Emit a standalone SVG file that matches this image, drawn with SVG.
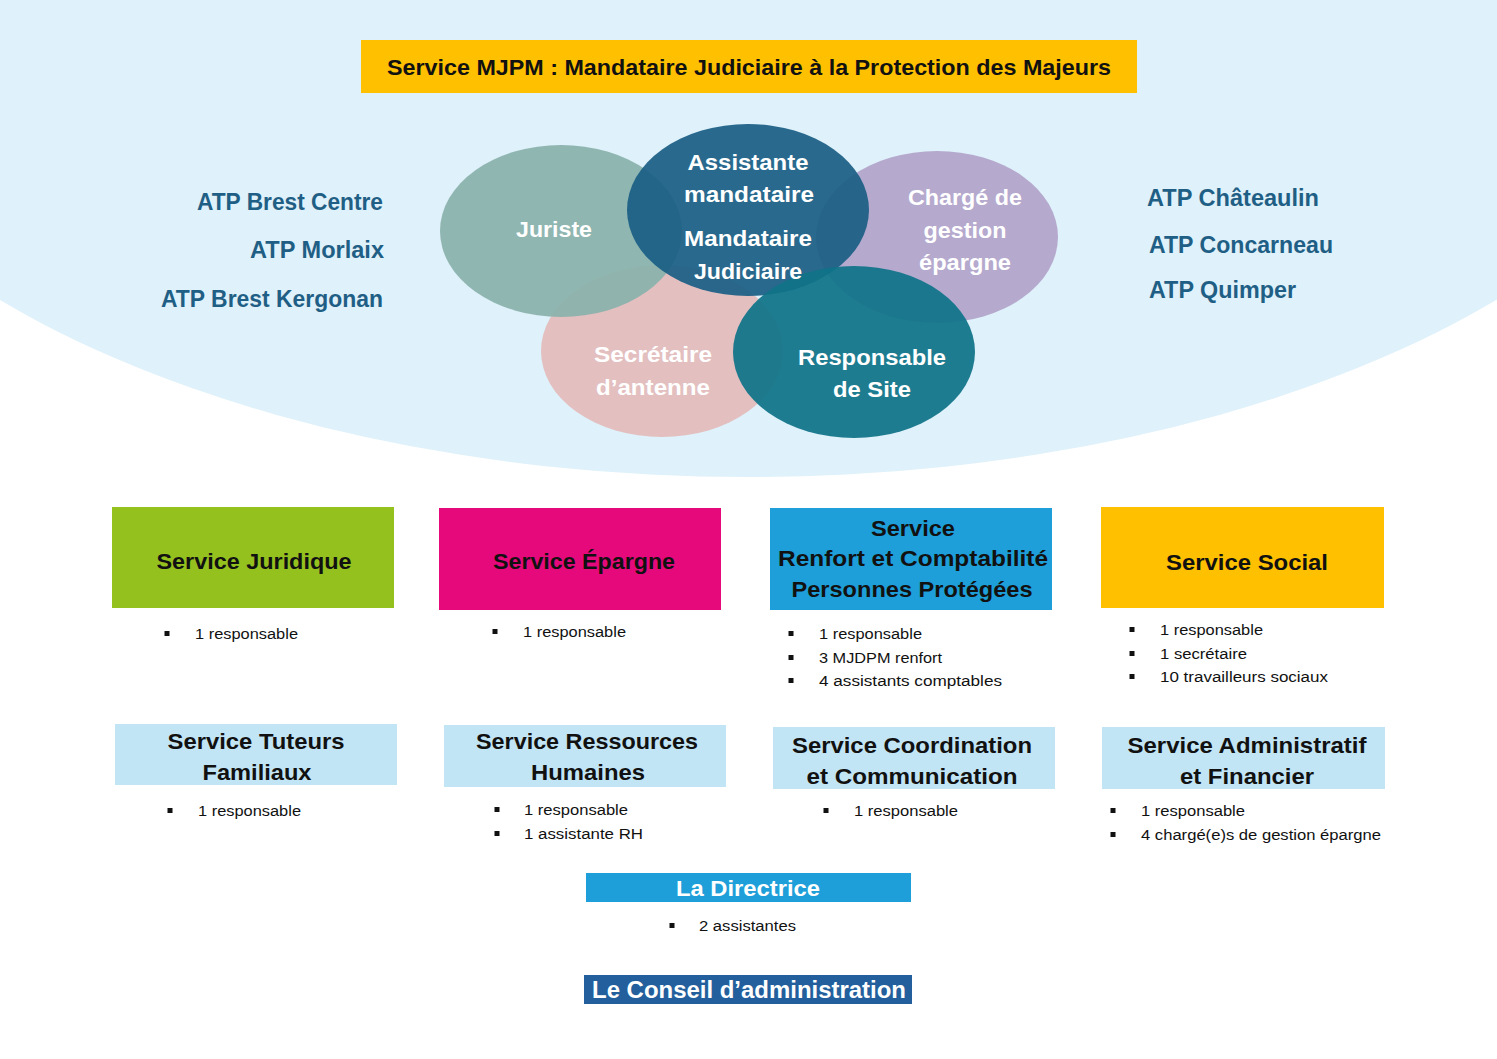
<svg xmlns="http://www.w3.org/2000/svg" width="1497" height="1059" viewBox="0 0 1497 1059">
<style>
  text { font-family: "Liberation Sans", Arial, sans-serif; }
  .t { font-weight: bold; font-size: 22px; text-anchor: middle; fill: #111; }
  .tw { font-weight: bold; font-size: 22px; text-anchor: middle; fill: #ffffff; }
  .atp { font-weight: bold; font-size: 23px; fill: #1F5F85; }
  .b { font-size: 15.5px; fill: #111; }
  .blt { fill: #111; }
  .ov { fill-opacity: 0.93; }
</style>
<rect x="0" y="0" width="1497" height="1059" fill="#ffffff"/>
<ellipse cx="748" cy="-49" rx="1000" ry="526" fill="#DFF1FA"/>

<g id="title">
  <rect x="361" y="40" width="776" height="53" fill="#FFC000"/>
  <text class="t" x="749" y="75" textLength="724" lengthAdjust="spacingAndGlyphs">Service MJPM : Mandataire Judiciaire à la Protection des Majeurs</text>
</g>

<g id="atp-left">
  <text class="atp" x="383" y="210" text-anchor="end" textLength="186" lengthAdjust="spacingAndGlyphs">ATP Brest Centre</text>
  <text class="atp" x="384" y="258" text-anchor="end" textLength="134" lengthAdjust="spacingAndGlyphs">ATP Morlaix</text>
  <text class="atp" x="383" y="307" text-anchor="end" textLength="222" lengthAdjust="spacingAndGlyphs">ATP Brest Kergonan</text>
</g>
<g id="atp-right">
  <text class="atp" x="1147" y="206" textLength="172" lengthAdjust="spacingAndGlyphs">ATP Châteaulin</text>
  <text class="atp" x="1149" y="253" textLength="184" lengthAdjust="spacingAndGlyphs">ATP Concarneau</text>
  <text class="atp" x="1149" y="298" textLength="147" lengthAdjust="spacingAndGlyphs">ATP Quimper</text>
</g>

<g id="ellipse-secretaire">
  <ellipse class="ov" cx="662" cy="351" rx="121" ry="86" fill="#E3BBBB"/>
</g>
<g id="ellipse-juriste">
  <ellipse class="ov" cx="561" cy="231" rx="121" ry="86" fill="#8AB2AB"/>
</g>
<g id="ellipse-charge">
  <ellipse class="ov" cx="937" cy="237" rx="121" ry="86" fill="#B2A4CA"/>
</g>
<g id="ellipse-mandataire">
  <ellipse class="ov" cx="748" cy="210" rx="121" ry="86" fill="#1B5F84"/>
</g>
<g id="ellipse-responsable">
  <ellipse class="ov" cx="854" cy="352" rx="121" ry="86" fill="#0F7388"/>
</g>
<g id="ellipse-labels">
  <text class="tw" x="554" y="237" textLength="76" lengthAdjust="spacingAndGlyphs">Juriste</text>
  <text class="tw" x="748" y="170" textLength="121" lengthAdjust="spacingAndGlyphs">Assistante</text>
  <text class="tw" x="749" y="202" textLength="130" lengthAdjust="spacingAndGlyphs">mandataire</text>
  <text class="tw" x="748" y="246" textLength="128" lengthAdjust="spacingAndGlyphs">Mandataire</text>
  <text class="tw" x="748" y="279" textLength="108" lengthAdjust="spacingAndGlyphs">Judiciaire</text>
  <text class="tw" x="965" y="205" textLength="114" lengthAdjust="spacingAndGlyphs">Chargé de</text>
  <text class="tw" x="965" y="238" textLength="83" lengthAdjust="spacingAndGlyphs">gestion</text>
  <text class="tw" x="965" y="270" textLength="92" lengthAdjust="spacingAndGlyphs">épargne</text>
  <text class="tw" x="653" y="362" textLength="118" lengthAdjust="spacingAndGlyphs">Secrétaire</text>
  <text class="tw" x="653" y="395" textLength="114" lengthAdjust="spacingAndGlyphs">d’antenne</text>
  <text class="tw" x="872" y="365" textLength="148" lengthAdjust="spacingAndGlyphs">Responsable</text>
  <text class="tw" x="872" y="397" textLength="78" lengthAdjust="spacingAndGlyphs">de Site</text>
</g>

<g id="service-juridique">
  <rect x="112" y="507" width="282" height="101" fill="#95C11F"/>
  <text class="t" x="254" y="569" textLength="195" lengthAdjust="spacingAndGlyphs">Service Juridique</text>
  <rect class="blt" x="164.5" y="631" width="5" height="5"/>
  <text class="b" x="195" y="639" textLength="103" lengthAdjust="spacingAndGlyphs">1 responsable</text>
</g>

<g id="service-epargne">
  <rect x="439" y="508" width="282" height="102" fill="#E6097B"/>
  <text class="t" x="584" y="569" textLength="182" lengthAdjust="spacingAndGlyphs">Service Épargne</text>
  <rect class="blt" x="492.5" y="629" width="5" height="5"/>
  <text class="b" x="523" y="637" textLength="103" lengthAdjust="spacingAndGlyphs">1 responsable</text>
</g>

<g id="service-renfort">
  <rect x="770" y="508" width="282" height="102" fill="#1E9FD9"/>
  <text class="t" x="913" y="536" textLength="84" lengthAdjust="spacingAndGlyphs">Service</text>
  <text class="t" x="913" y="566" textLength="270" lengthAdjust="spacingAndGlyphs">Renfort et Comptabilité</text>
  <text class="t" x="912" y="597" textLength="241" lengthAdjust="spacingAndGlyphs">Personnes Protégées</text>
  <rect class="blt" x="788.5" y="631" width="5" height="5"/>
  <text class="b" x="819" y="639" textLength="103" lengthAdjust="spacingAndGlyphs">1 responsable</text>
  <rect class="blt" x="788.5" y="655" width="5" height="5"/>
  <text class="b" x="819" y="663" textLength="123" lengthAdjust="spacingAndGlyphs">3 MJDPM renfort</text>
  <rect class="blt" x="788.5" y="678" width="5" height="5"/>
  <text class="b" x="819" y="686" textLength="183" lengthAdjust="spacingAndGlyphs">4 assistants  comptables</text>
</g>

<g id="service-social">
  <rect x="1101" y="507" width="283" height="101" fill="#FFC000"/>
  <text class="t" x="1247" y="570" textLength="162" lengthAdjust="spacingAndGlyphs">Service Social</text>
  <rect class="blt" x="1129.5" y="627" width="5" height="5"/>
  <text class="b" x="1160" y="635" textLength="103" lengthAdjust="spacingAndGlyphs">1 responsable</text>
  <rect class="blt" x="1129.5" y="651" width="5" height="5"/>
  <text class="b" x="1160" y="659" textLength="87" lengthAdjust="spacingAndGlyphs">1 secrétaire</text>
  <rect class="blt" x="1129.5" y="674" width="5" height="5"/>
  <text class="b" x="1160" y="682" textLength="168" lengthAdjust="spacingAndGlyphs">10 travailleurs sociaux</text>
</g>

<g id="service-tuteurs">
  <rect x="115" y="724" width="282" height="61" fill="#C2E5F5"/>
  <text class="t" x="256" y="749" textLength="177" lengthAdjust="spacingAndGlyphs">Service Tuteurs</text>
  <text class="t" x="257" y="780" textLength="109" lengthAdjust="spacingAndGlyphs">Familiaux</text>
  <rect class="blt" x="167.5" y="808" width="5" height="5"/>
  <text class="b" x="198" y="816" textLength="103" lengthAdjust="spacingAndGlyphs">1 responsable</text>
</g>

<g id="service-rh">
  <rect x="444" y="725" width="282" height="62" fill="#C2E5F5"/>
  <text class="t" x="587" y="749" textLength="222" lengthAdjust="spacingAndGlyphs">Service Ressources</text>
  <text class="t" x="588" y="780" textLength="114" lengthAdjust="spacingAndGlyphs">Humaines</text>
  <rect class="blt" x="494.5" y="807" width="5" height="5"/>
  <text class="b" x="524" y="815" textLength="104" lengthAdjust="spacingAndGlyphs">1 responsable</text>
  <rect class="blt" x="494.5" y="831" width="5" height="5"/>
  <text class="b" x="524" y="839" textLength="119" lengthAdjust="spacingAndGlyphs">1 assistante  RH</text>
</g>

<g id="service-coordination">
  <rect x="773" y="727" width="282" height="62" fill="#C2E5F5"/>
  <text class="t" x="912" y="753" textLength="240" lengthAdjust="spacingAndGlyphs">Service Coordination</text>
  <text class="t" x="912" y="784" textLength="211" lengthAdjust="spacingAndGlyphs">et Communication</text>
  <rect class="blt" x="823.5" y="808" width="5" height="5"/>
  <text class="b" x="854" y="816" textLength="104" lengthAdjust="spacingAndGlyphs">1 responsable</text>
</g>

<g id="service-administratif">
  <rect x="1102" y="727" width="283" height="62" fill="#C2E5F5"/>
  <text class="t" x="1247" y="753" textLength="239" lengthAdjust="spacingAndGlyphs">Service Administratif</text>
  <text class="t" x="1247" y="784" textLength="134" lengthAdjust="spacingAndGlyphs">et Financier</text>
  <rect class="blt" x="1110.5" y="808" width="5" height="5"/>
  <text class="b" x="1141" y="816" textLength="104" lengthAdjust="spacingAndGlyphs">1 responsable</text>
  <rect class="blt" x="1110.5" y="832" width="5" height="5"/>
  <text class="b" x="1141" y="840" textLength="240" lengthAdjust="spacingAndGlyphs">4 chargé(e)s de gestion  épargne</text>
</g>

<g id="directrice">
  <rect x="586" y="873" width="325" height="29" fill="#1E9FD9"/>
  <text class="tw" x="748" y="896" textLength="144" lengthAdjust="spacingAndGlyphs">La Directrice</text>
  <rect class="blt" x="669.5" y="923" width="5" height="5"/>
  <text class="b" x="699" y="931" textLength="97" lengthAdjust="spacingAndGlyphs">2 assistantes</text>
</g>

<g id="conseil">
  <rect x="584" y="975" width="328" height="29" fill="#225F9C"/>
  <text class="tw" x="749" y="998" style="font-size:23px" textLength="314" lengthAdjust="spacingAndGlyphs">Le Conseil d’administration</text>
</g>

<g id="connectors"></g>
</svg>
